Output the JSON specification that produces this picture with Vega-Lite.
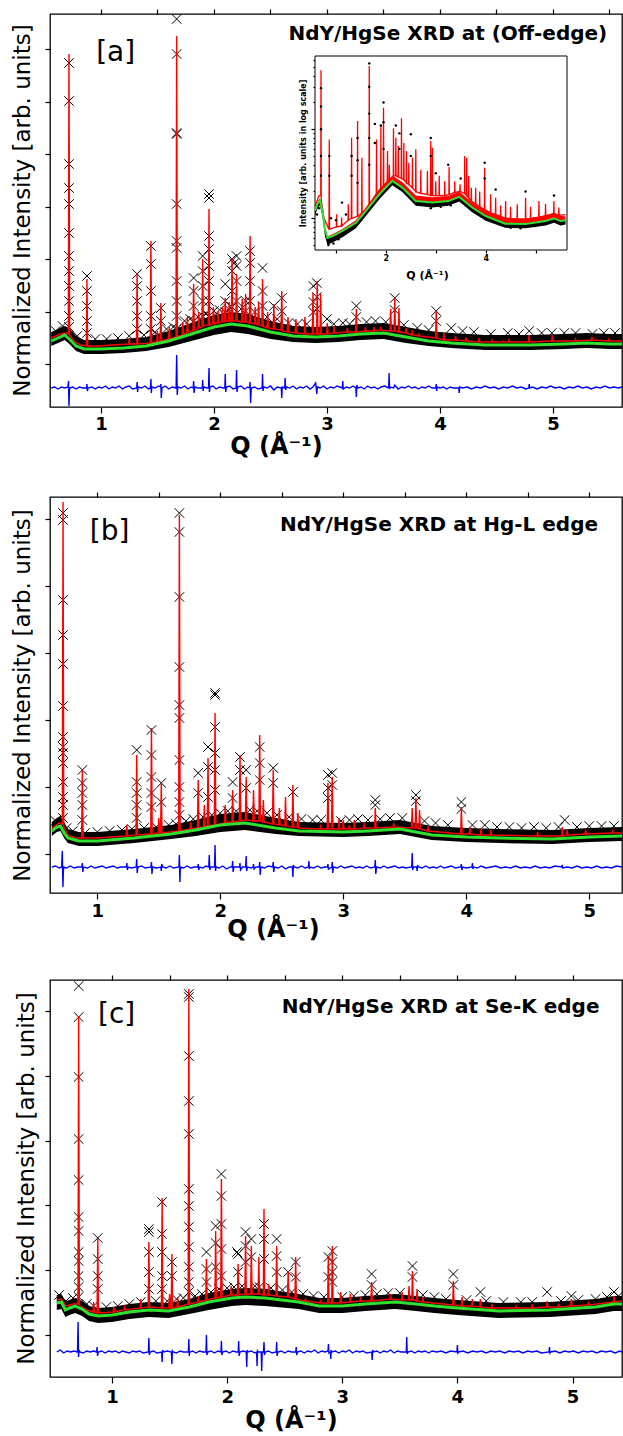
{
"$schema": "https://vega.github.io/schema/vega-lite/v6.json",
"background": "white",
"padding": {"left": 10, "top": 7, "right": 0, "bottom": 0},
"spacing": 31,
"datasets": {
"a_bg": [
{"q":0.56,"bg":66,"lo":61,"hi":75},{"q":0.62,"bg":69,"lo":64,"hi":78},{"q":0.68,"bg":72,"lo":67,"hi":81},{"q":0.72,"bg":68,"lo":63,"hi":79},{"q":0.78,"bg":61,"lo":56,"hi":71},{"q":0.85,"bg":58,"lo":53,"hi":67},{"q":1.0,"bg":58,"lo":53,"hi":67},{"q":1.2,"bg":59,"lo":54,"hi":68},{"q":1.4,"bg":61,"lo":56,"hi":70},{"q":1.6,"bg":66,"lo":60,"hi":76},{"q":1.8,"bg":73,"lo":66,"hi":84},{"q":2.0,"bg":80,"lo":72,"hi":92},{"q":2.15,"bg":83,"lo":75,"hi":95},{"q":2.3,"bg":81,"lo":73,"hi":93},{"q":2.5,"bg":75,"lo":68,"hi":86},{"q":2.7,"bg":71,"lo":65,"hi":81},{"q":2.9,"bg":70,"lo":64,"hi":80},{"q":3.1,"bg":71,"lo":65,"hi":81},{"q":3.3,"bg":73,"lo":67,"hi":83},{"q":3.5,"bg":74,"lo":68,"hi":84},{"q":3.7,"bg":70,"lo":64,"hi":80},{"q":3.9,"bg":66,"lo":61,"hi":76},{"q":4.1,"bg":64,"lo":59,"hi":74},{"q":4.4,"bg":62,"lo":57,"hi":72},{"q":4.8,"bg":62,"lo":57,"hi":72},{"q":5.1,"bg":63,"lo":58,"hi":73},{"q":5.3,"bg":64,"lo":59,"hi":74},{"q":5.5,"bg":63,"lo":58,"hi":73},{"q":5.611,"bg":63,"lo":58,"hi":73}
],
"a_calc": [
{"q":0.56,"y":69},{"q":0.64,"y":73},{"q":0.70,"y":74},{"q":0.711,"y":73},{"q":0.717,"y":353},{"q":0.723,"y":72},{"q":0.76,"y":66},{"q":0.82,"y":62},{"q":0.87,"y":61},{"q":0.876,"y":128},{"q":0.882,"y":61},{"q":0.98,"y":61},{"q":1.10,"y":62},{"q":1.245,"y":63},{"q":1.25,"y":69},{"q":1.255,"y":63},{"q":1.314,"y":63},{"q":1.32,"y":134},{"q":1.326,"y":63},{"q":1.436,"y":64},{"q":1.442,"y":166},{"q":1.448,"y":64},{"q":1.494,"y":65},{"q":1.50,"y":76},{"q":1.506,"y":65},{"q":1.524,"y":66},{"q":1.53,"y":104},{"q":1.536,"y":66},{"q":1.598,"y":68},{"q":1.605,"y":80},{"q":1.612,"y":68},{"q":1.664,"y":70},{"q":1.67,"y":371},{"q":1.676,"y":70},{"q":1.718,"y":72},{"q":1.725,"y":85},{"q":1.732,"y":73},{"q":1.758,"y":74},{"q":1.765,"y":90},{"q":1.772,"y":75},{"q":1.814,"y":76},{"q":1.82,"y":123},{"q":1.826,"y":77},{"q":1.858,"y":78},{"q":1.865,"y":95},{"q":1.872,"y":79},{"q":1.894,"y":80},{"q":1.90,"y":148},{"q":1.906,"y":81},{"q":1.95,"y":82},{"q":1.956,"y":198},{"q":1.962,"y":82},{"q":1.988,"y":83},{"q":1.995,"y":100},{"q":2.002,"y":83},{"q":2.03,"y":84},{"q":2.036,"y":96},{"q":2.042,"y":84},{"q":2.068,"y":85},{"q":2.075,"y":100},{"q":2.082,"y":85},{"q":2.094,"y":85},{"q":2.10,"y":109},{"q":2.106,"y":86},{"q":2.128,"y":86},{"q":2.135,"y":105},{"q":2.142,"y":86},{"q":2.154,"y":86},{"q":2.16,"y":149},{"q":2.166,"y":86},{"q":2.194,"y":86},{"q":2.20,"y":133},{"q":2.206,"y":86},{"q":2.243,"y":85},{"q":2.25,"y":108},{"q":2.257,"y":85},{"q":2.274,"y":85},{"q":2.28,"y":113},{"q":2.286,"y":85},{"q":2.314,"y":84},{"q":2.32,"y":171},{"q":2.326,"y":84},{"q":2.358,"y":83},{"q":2.365,"y":100},{"q":2.372,"y":83},{"q":2.388,"y":82},{"q":2.395,"y":105},{"q":2.402,"y":82},{"q":2.424,"y":81},{"q":2.43,"y":128},{"q":2.436,"y":81},{"q":2.468,"y":79},{"q":2.475,"y":95},{"q":2.482,"y":79},{"q":2.524,"y":78},{"q":2.53,"y":103},{"q":2.536,"y":78},{"q":2.594,"y":77},{"q":2.60,"y":116},{"q":2.606,"y":76},{"q":2.648,"y":75},{"q":2.655,"y":90},{"q":2.662,"y":75},{"q":2.718,"y":74},{"q":2.725,"y":88},{"q":2.732,"y":74},{"q":2.798,"y":73},{"q":2.805,"y":90},{"q":2.812,"y":73},{"q":2.87,"y":73},{"q":2.876,"y":114},{"q":2.882,"y":73},{"q":2.908,"y":73},{"q":2.914,"y":126},{"q":2.92,"y":73},{"q":2.938,"y":73},{"q":2.944,"y":113},{"q":2.95,"y":73},{"q":2.997,"y":73},{"q":3.003,"y":84},{"q":3.009,"y":73},{"q":3.056,"y":74},{"q":3.062,"y":81},{"q":3.068,"y":74},{"q":3.174,"y":75},{"q":3.18,"y":79},{"q":3.186,"y":75},{"q":3.254,"y":75},{"q":3.26,"y":98},{"q":3.266,"y":75},{"q":3.334,"y":76},{"q":3.34,"y":80},{"q":3.346,"y":76},{"q":3.41,"y":76},{"q":3.416,"y":80},{"q":3.422,"y":76},{"q":3.469,"y":77},{"q":3.475,"y":79},{"q":3.481,"y":77},{"q":3.558,"y":76},{"q":3.564,"y":98},{"q":3.57,"y":76},{"q":3.594,"y":76},{"q":3.60,"y":109},{"q":3.606,"y":76},{"q":3.631,"y":75},{"q":3.637,"y":99},{"q":3.643,"y":75},{"q":3.694,"y":74},{"q":3.70,"y":79},{"q":3.706,"y":74},{"q":3.749,"y":72},{"q":3.755,"y":77},{"q":3.761,"y":72},{"q":3.808,"y":71},{"q":3.814,"y":73},{"q":3.82,"y":71},{"q":3.961,"y":69},{"q":3.967,"y":96},{"q":3.973,"y":69},{"q":4.029,"y":67},{"q":4.035,"y":74},{"q":4.041,"y":67},{"q":4.133,"y":67},{"q":4.139,"y":71},{"q":4.145,"y":67},{"q":4.224,"y":66},{"q":4.23,"y":70},{"q":4.236,"y":66},{"q":4.339,"y":65},{"q":4.345,"y":69},{"q":4.351,"y":65},{"q":4.454,"y":65},{"q":4.46,"y":67},{"q":4.466,"y":65},{"q":4.604,"y":65},{"q":4.61,"y":67},{"q":4.616,"y":65},{"q":4.782,"y":65},{"q":4.788,"y":72},{"q":4.794,"y":65},{"q":4.988,"y":66},{"q":4.994,"y":72},{"q":5.0,"y":66},{"q":5.194,"y":66},{"q":5.2,"y":68},{"q":5.206,"y":66},{"q":5.339,"y":67},{"q":5.345,"y":70},{"q":5.351,"y":67},{"q":5.49,"y":66},{"q":5.496,"y":68},{"q":5.502,"y":66},{"q":5.611,"y":66}
],
"a_obs": [
{"q":0.717,"y":344},{"q":0.717,"y":306},{"q":0.717,"y":243},{"q":0.717,"y":219},{"q":0.717,"y":203},{"q":0.717,"y":174},{"q":0.717,"y":151},{"q":0.717,"y":136},{"q":0.717,"y":121},{"q":0.717,"y":106},{"q":0.717,"y":91},{"q":0.717,"y":80},
{"q":0.876,"y":131},{"q":0.876,"y":116},{"q":0.876,"y":101},{"q":0.876,"y":86},{"q":0.876,"y":74},
{"q":1.32,"y":133},{"q":1.32,"y":121},{"q":1.32,"y":106},{"q":1.32,"y":91},{"q":1.32,"y":78},
{"q":1.442,"y":161},{"q":1.442,"y":143},{"q":1.442,"y":116},{"q":1.442,"y":91},{"q":1.442,"y":78},
{"q":1.53,"y":99},{"q":1.53,"y":86},
{"q":1.67,"y":388},{"q":1.67,"y":353},{"q":1.67,"y":274},{"q":1.67,"y":273},{"q":1.67,"y":203},{"q":1.67,"y":166},{"q":1.67,"y":159},{"q":1.67,"y":126},{"q":1.67,"y":106},{"q":1.67,"y":91},{"q":1.67,"y":78},
{"q":1.82,"y":129},{"q":1.82,"y":116},{"q":1.82,"y":101},{"q":1.82,"y":86},
{"q":1.90,"y":151},{"q":1.90,"y":136},{"q":1.90,"y":121},{"q":1.90,"y":106},{"q":1.90,"y":91},
{"q":1.956,"y":213},{"q":1.956,"y":209},{"q":1.956,"y":171},{"q":1.956,"y":158},{"q":1.956,"y":141},{"q":1.956,"y":126},{"q":1.956,"y":106},{"q":1.956,"y":91},
{"q":2.10,"y":123},{"q":2.10,"y":106},{"q":2.10,"y":95},
{"q":2.16,"y":148},{"q":2.16,"y":136},{"q":2.16,"y":116},{"q":2.16,"y":100},{"q":2.18,"y":144},
{"q":2.20,"y":151},{"q":2.20,"y":141},{"q":2.20,"y":126},{"q":2.20,"y":106},
{"q":2.28,"y":106},{"q":2.28,"y":96},
{"q":2.32,"y":156},{"q":2.32,"y":144},{"q":2.32,"y":126},{"q":2.32,"y":106},
{"q":2.43,"y":139},{"q":2.43,"y":116},{"q":2.43,"y":101},
{"q":2.53,"y":101},{"q":2.60,"y":109},{"q":2.60,"y":96},
{"q":2.88,"y":121},{"q":2.88,"y":105},{"q":2.88,"y":95},{"q":2.91,"y":124},{"q":2.91,"y":110},{"q":2.91,"y":98},
{"q":3.0,"y":88},{"q":3.14,"y":84},{"q":3.26,"y":101},{"q":3.26,"y":90},{"q":3.43,"y":86},{"q":3.60,"y":109},{"q":3.60,"y":97},{"q":3.967,"y":96},{"q":3.967,"y":86},{"q":4.1,"y":79},{"q":4.79,"y":76},{"q":4.99,"y":74},{"q":5.35,"y":73},
{"q":0.6,"y":76},{"q":0.66,"y":81},{"q":0.79,"y":71},{"q":0.95,"y":68},{"q":1.05,"y":68},{"q":1.15,"y":69},{"q":1.25,"y":71},{"q":1.38,"y":72},{"q":1.48,"y":75},{"q":1.58,"y":78},{"q":1.64,"y":80},{"q":1.74,"y":86},{"q":1.79,"y":88},{"q":1.86,"y":90},{"q":1.93,"y":93},{"q":2.0,"y":96},{"q":2.05,"y":97},{"q":2.13,"y":98},{"q":2.24,"y":98},{"q":2.36,"y":95},{"q":2.47,"y":90},{"q":2.56,"y":88},{"q":2.66,"y":84},{"q":2.74,"y":83},{"q":2.82,"y":83},{"q":3.06,"y":83},{"q":3.2,"y":83},{"q":3.35,"y":85},{"q":3.52,"y":85},{"q":3.68,"y":82},{"q":3.8,"y":79},{"q":3.9,"y":77},{"q":4.2,"y":76},{"q":4.3,"y":75},{"q":4.45,"y":73},{"q":4.6,"y":74},{"q":4.7,"y":73},{"q":4.9,"y":74},{"q":5.1,"y":74},{"q":5.2,"y":74},{"q":5.45,"y":74},{"q":5.55,"y":74}
],
"a_diff": [
{"q":0.56,"y":19},{"q":0.59,"y":20},{"q":0.62,"y":18},{"q":0.65,"y":20},{"q":0.68,"y":19},{"q":0.708,"y":20},{"q":0.713,"y":26},{"q":0.717,"y":1},{"q":0.722,"y":19},{"q":0.75,"y":20},{"q":0.78,"y":18},{"q":0.81,"y":20},{"q":0.84,"y":19},{"q":0.872,"y":19},{"q":0.876,"y":23},{"q":0.88,"y":16},{"q":0.885,"y":19},{"q":0.92,"y":20},{"q":0.95,"y":18},{"q":0.98,"y":20},{"q":1.01,"y":19},{"q":1.04,"y":21},{"q":1.07,"y":18},{"q":1.10,"y":20},{"q":1.13,"y":19},{"q":1.16,"y":21},{"q":1.19,"y":18},{"q":1.22,"y":20},{"q":1.25,"y":21},{"q":1.28,"y":18},{"q":1.316,"y":19},{"q":1.32,"y":25},{"q":1.324,"y":15},{"q":1.33,"y":20},{"q":1.36,"y":19},{"q":1.39,"y":21},{"q":1.42,"y":18},{"q":1.438,"y":19},{"q":1.442,"y":28},{"q":1.446,"y":14},{"q":1.45,"y":20},{"q":1.48,"y":19},{"q":1.51,"y":21},{"q":1.526,"y":20},{"q":1.53,"y":23},{"q":1.534,"y":9},{"q":1.54,"y":19},{"q":1.57,"y":21},{"q":1.60,"y":18},{"q":1.63,"y":20},{"q":1.665,"y":19},{"q":1.67,"y":52},{"q":1.675,"y":12},{"q":1.68,"y":20},{"q":1.71,"y":19},{"q":1.74,"y":21},{"q":1.77,"y":18},{"q":1.80,"y":20},{"q":1.816,"y":19},{"q":1.82,"y":26},{"q":1.824,"y":14},{"q":1.83,"y":20},{"q":1.86,"y":19},{"q":1.896,"y":19},{"q":1.90,"y":27},{"q":1.904,"y":16},{"q":1.91,"y":20},{"q":1.94,"y":19},{"q":1.952,"y":19},{"q":1.956,"y":39},{"q":1.96,"y":15},{"q":1.965,"y":20},{"q":1.99,"y":21},{"q":2.02,"y":18},{"q":2.05,"y":20},{"q":2.08,"y":19},{"q":2.096,"y":19},{"q":2.10,"y":33},{"q":2.104,"y":15},{"q":2.11,"y":20},{"q":2.14,"y":21},{"q":2.17,"y":18},{"q":2.196,"y":19},{"q":2.20,"y":37},{"q":2.204,"y":15},{"q":2.21,"y":20},{"q":2.24,"y":21},{"q":2.27,"y":18},{"q":2.30,"y":20},{"q":2.316,"y":19},{"q":2.32,"y":25},{"q":2.324,"y":4},{"q":2.33,"y":19},{"q":2.36,"y":20},{"q":2.39,"y":18},{"q":2.426,"y":19},{"q":2.43,"y":33},{"q":2.434,"y":16},{"q":2.44,"y":20},{"q":2.47,"y":19},{"q":2.50,"y":21},{"q":2.53,"y":17},{"q":2.56,"y":20},{"q":2.596,"y":19},{"q":2.60,"y":9},{"q":2.604,"y":20},{"q":2.626,"y":19},{"q":2.63,"y":29},{"q":2.634,"y":17},{"q":2.64,"y":20},{"q":2.67,"y":19},{"q":2.70,"y":21},{"q":2.73,"y":18},{"q":2.76,"y":20},{"q":2.79,"y":19},{"q":2.82,"y":21},{"q":2.85,"y":18},{"q":2.876,"y":20},{"q":2.90,"y":24},{"q":2.905,"y":19},{"q":2.91,"y":13},{"q":2.915,"y":20},{"q":2.94,"y":19},{"q":2.97,"y":21},{"q":3.0,"y":18},{"q":3.03,"y":20},{"q":3.06,"y":19},{"q":3.09,"y":21},{"q":3.136,"y":19},{"q":3.14,"y":26},{"q":3.144,"y":18},{"q":3.17,"y":20},{"q":3.20,"y":19},{"q":3.23,"y":21},{"q":3.256,"y":19},{"q":3.26,"y":10},{"q":3.264,"y":22},{"q":3.27,"y":19},{"q":3.30,"y":20},{"q":3.33,"y":18},{"q":3.36,"y":21},{"q":3.39,"y":19},{"q":3.42,"y":20},{"q":3.45,"y":18},{"q":3.48,"y":20},{"q":3.51,"y":21},{"q":3.546,"y":19},{"q":3.55,"y":34},{"q":3.554,"y":18},{"q":3.56,"y":20},{"q":3.59,"y":19},{"q":3.60,"y":22},{"q":3.63,"y":18},{"q":3.66,"y":20},{"q":3.69,"y":19},{"q":3.72,"y":21},{"q":3.75,"y":19},{"q":3.78,"y":20},{"q":3.81,"y":18},{"q":3.84,"y":20},{"q":3.87,"y":19},{"q":3.90,"y":21},{"q":3.93,"y":19},{"q":3.963,"y":19},{"q":3.967,"y":23},{"q":3.971,"y":16},{"q":3.975,"y":20},{"q":4.0,"y":19},{"q":4.03,"y":20},{"q":4.06,"y":18},{"q":4.09,"y":20},{"q":4.12,"y":19},{"q":4.166,"y":19},{"q":4.17,"y":14},{"q":4.174,"y":20},{"q":4.20,"y":19},{"q":4.24,"y":20},{"q":4.28,"y":18},{"q":4.32,"y":20},{"q":4.36,"y":19},{"q":4.40,"y":21},{"q":4.44,"y":19},{"q":4.48,"y":20},{"q":4.52,"y":18},{"q":4.56,"y":20},{"q":4.60,"y":19},{"q":4.64,"y":21},{"q":4.68,"y":19},{"q":4.72,"y":20},{"q":4.76,"y":18},{"q":4.786,"y":19},{"q":4.79,"y":23},{"q":4.794,"y":19},{"q":4.82,"y":20},{"q":4.86,"y":18},{"q":4.90,"y":20},{"q":4.94,"y":19},{"q":4.98,"y":21},{"q":5.02,"y":19},{"q":5.06,"y":20},{"q":5.10,"y":18},{"q":5.14,"y":20},{"q":5.18,"y":19},{"q":5.22,"y":21},{"q":5.26,"y":19},{"q":5.30,"y":20},{"q":5.34,"y":18},{"q":5.38,"y":20},{"q":5.42,"y":19},{"q":5.46,"y":21},{"q":5.50,"y":19},{"q":5.54,"y":20},{"q":5.58,"y":19},{"q":5.611,"y":20}
],
"i_bg": [
{"q":0.58,"bg":1.21,"lo":1.08,"hi":1.28},{"q":0.63,"bg":1.45,"lo":1.28,"hi":1.53},{"q":0.68,"bg":1.59,"lo":1.4,"hi":1.68},{"q":0.73,"bg":1.2,"lo":1.04,"hi":1.26},{"q":0.78,"bg":0.75,"lo":0.63,"hi":0.79},{"q":0.83,"bg":0.6,"lo":0.5,"hi":0.63},{"q":0.95,"bg":0.64,"lo":0.54,"hi":0.67},{"q":1.13,"bg":0.72,"lo":0.61,"hi":0.76},{"q":1.4,"bg":0.89,"lo":0.77,"hi":0.95},{"q":1.6,"bg":1.21,"lo":1.06,"hi":1.32},{"q":1.87,"bg":1.86,"lo":1.64,"hi":2.15},{"q":2.13,"bg":2.63,"lo":2.35,"hi":3.0},{"q":2.33,"bg":2.21,"lo":1.97,"hi":2.55},{"q":2.6,"bg":1.56,"lo":1.38,"hi":1.8},{"q":2.93,"bg":1.5,"lo":1.32,"hi":1.72},{"q":3.25,"bg":1.56,"lo":1.38,"hi":1.78},{"q":3.47,"bg":1.74,"lo":1.54,"hi":2.0},{"q":3.73,"bg":1.32,"lo":1.17,"hi":1.5},{"q":4.0,"bg":1.06,"lo":0.94,"hi":1.22},{"q":4.39,"bg":0.87,"lo":0.78,"hi":1.0},{"q":4.8,"bg":0.86,"lo":0.77,"hi":0.99},{"q":5.2,"bg":0.93,"lo":0.83,"hi":1.07},{"q":5.37,"bg":1.0,"lo":0.89,"hi":1.15},{"q":5.5,"bg":0.93,"lo":0.83,"hi":1.07},{"q":5.6,"bg":0.95,"lo":0.85,"hi":1.05}
],
"i_calc": [
{"q":0.58,"v":1.35},{"q":0.66,"v":1.8},{"q":0.695,"v":1.8},{"q":0.70,"v":46},{"q":0.705,"v":1.6},{"q":0.76,"v":1.0},{"q":0.86,"v":0.75},{"q":0.866,"v":7.7},{"q":0.872,"v":0.75},{"q":1.008,"v":0.8},{"q":1.013,"v":1.11},{"q":1.018,"v":0.8},{"q":1.108,"v":0.82},{"q":1.113,"v":1.02},{"q":1.118,"v":0.82},{"q":1.242,"v":0.95},{"q":1.247,"v":1.44},{"q":1.252,"v":0.95},{"q":1.308,"v":1.0},{"q":1.313,"v":8.05},{"q":1.318,"v":1.0},{"q":1.428,"v":1.05},{"q":1.433,"v":12.4},{"q":1.438,"v":1.05},{"q":1.515,"v":1.15},{"q":1.52,"v":4.8},{"q":1.525,"v":1.15},{"q":1.662,"v":1.35},{"q":1.667,"v":51.4},{"q":1.672,"v":1.35},{"q":1.808,"v":1.9},{"q":1.813,"v":7.7},{"q":1.818,"v":1.9},{"q":1.895,"v":2.1},{"q":1.9,"v":10.9},{"q":1.905,"v":2.1},{"q":1.948,"v":2.3},{"q":1.953,"v":17.5},{"q":1.958,"v":2.3},{"q":2.028,"v":2.6},{"q":2.033,"v":5.7},{"q":2.038,"v":2.6},{"q":2.065,"v":2.7},{"q":2.07,"v":4.0},{"q":2.075,"v":2.7},{"q":2.148,"v":3.0},{"q":2.153,"v":10.3},{"q":2.158,"v":3.0},{"q":2.195,"v":3.0},{"q":2.2,"v":8.05},{"q":2.205,"v":3.0},{"q":2.245,"v":2.9},{"q":2.25,"v":6.5},{"q":2.255,"v":2.9},{"q":2.308,"v":2.8},{"q":2.313,"v":13.3},{"q":2.318,"v":2.8},{"q":2.355,"v":2.7},{"q":2.36,"v":7.0},{"q":2.365,"v":2.7},{"q":2.408,"v":2.5},{"q":2.413,"v":5.7},{"q":2.418,"v":2.5},{"q":2.455,"v":2.4},{"q":2.46,"v":4.2},{"q":2.465,"v":2.4},{"q":2.528,"v":2.2},{"q":2.533,"v":4.8},{"q":2.538,"v":2.2},{"q":2.595,"v":2.0},{"q":2.6,"v":5.96},{"q":2.605,"v":2.0},{"q":2.695,"v":1.9},{"q":2.7,"v":3.5},{"q":2.705,"v":1.9},{"q":2.828,"v":1.85},{"q":2.833,"v":3.4},{"q":2.838,"v":1.85},{"q":2.895,"v":1.8},{"q":2.9,"v":7.4},{"q":2.905,"v":1.8},{"q":2.928,"v":1.8},{"q":2.933,"v":6.2},{"q":2.938,"v":1.8},{"q":2.995,"v":1.8},{"q":3.0,"v":2.6},{"q":3.005,"v":1.8},{"q":3.065,"v":1.8},{"q":3.07,"v":3.0},{"q":3.075,"v":1.8},{"q":3.175,"v":1.8},{"q":3.18,"v":2.6},{"q":3.185,"v":1.8},{"q":3.262,"v":1.85},{"q":3.267,"v":3.77},{"q":3.272,"v":1.85},{"q":3.375,"v":1.95},{"q":3.38,"v":2.6},{"q":3.385,"v":1.95},{"q":3.482,"v":2.0},{"q":3.487,"v":2.41},{"q":3.492,"v":2.0},{"q":3.575,"v":1.9},{"q":3.58,"v":5.0},{"q":3.585,"v":1.9},{"q":3.615,"v":1.8},{"q":3.62,"v":4.8},{"q":3.625,"v":1.8},{"q":3.655,"v":1.7},{"q":3.66,"v":3.0},{"q":3.665,"v":1.7},{"q":3.708,"v":1.55},{"q":3.713,"v":2.2},{"q":3.718,"v":1.55},{"q":3.795,"v":1.45},{"q":3.8,"v":2.2},{"q":3.805,"v":1.45},{"q":3.875,"v":1.35},{"q":3.88,"v":2.0},{"q":3.885,"v":1.35},{"q":3.975,"v":1.25},{"q":3.98,"v":3.7},{"q":3.985,"v":1.25},{"q":4.095,"v":1.15},{"q":4.1,"v":1.86},{"q":4.105,"v":1.15},{"q":4.195,"v":1.1},{"q":4.2,"v":1.7},{"q":4.205,"v":1.1},{"q":4.295,"v":1.05},{"q":4.3,"v":1.4},{"q":4.305,"v":1.05},{"q":4.395,"v":1.0},{"q":4.4,"v":1.56},{"q":4.405,"v":1.0},{"q":4.495,"v":0.99},{"q":4.5,"v":1.35},{"q":4.505,"v":0.99},{"q":4.628,"v":0.98},{"q":4.633,"v":1.44},{"q":4.638,"v":0.98},{"q":4.795,"v":0.98},{"q":4.8,"v":1.7},{"q":4.805,"v":0.98},{"q":4.895,"v":1.0},{"q":4.9,"v":1.35},{"q":4.905,"v":1.0},{"q":5.062,"v":1.03},{"q":5.067,"v":1.56},{"q":5.072,"v":1.03},{"q":5.195,"v":1.07},{"q":5.2,"v":1.45},{"q":5.205,"v":1.07},{"q":5.362,"v":1.13},{"q":5.367,"v":1.56},{"q":5.372,"v":1.13},{"q":5.462,"v":1.08},{"q":5.467,"v":1.32},{"q":5.472,"v":1.08},{"q":5.6,"v":1.1}
],
"i_obs": [
{"q":0.70,"v":29},{"q":0.70,"v":18},{"q":0.70,"v":10},{"q":0.70,"v":5},{"q":0.70,"v":3},{"q":0.866,"v":5},{"q":0.866,"v":3},{"q":1.313,"v":5},{"q":1.313,"v":3},{"q":1.433,"v":8},{"q":1.433,"v":4.5},{"q":1.433,"v":2.5},{"q":1.667,"v":55},{"q":1.667,"v":30},{"q":1.667,"v":15},{"q":1.667,"v":8},{"q":1.667,"v":4},{"q":1.78,"v":11.5},{"q":1.78,"v":7},{"q":1.9,"v":11},{"q":1.953,"v":20},{"q":1.953,"v":12},{"q":1.953,"v":6},{"q":2.2,"v":11},{"q":2.27,"v":9},{"q":2.27,"v":6},{"q":2.5,"v":8.8},{"q":2.5,"v":5},{"q":2.9,"v":8},{"q":2.9,"v":5},{"q":3.0,"v":3.2},{"q":3.25,"v":4},{"q":3.5,"v":2.8},{"q":3.98,"v":4.2},{"q":3.98,"v":2.8},{"q":4.2,"v":2.1},{"q":4.8,"v":2.0},{"q":5.37,"v":1.8},{"q":0.85,"v":0.5},{"q":0.9,"v":0.56},{"q":0.95,"v":0.52},{"q":1.0,"v":0.62},{"q":1.05,"v":0.58},{"q":1.1,"v":0.66},{"q":1.2,"v":0.7},{"q":1.3,"v":0.76},{"q":1.5,"v":0.95},{"q":0.62,"v":1.1},{"q":0.66,"v":1.3},{"q":2.9,"v":1.3},{"q":3.1,"v":1.35},{"q":3.3,"v":1.4},{"q":4.5,"v":0.78},{"q":4.7,"v":0.77},{"q":5.0,"v":0.82},{"q":5.5,"v":0.86},{"q":1.12,"v":1.5},{"q":1.2,"v":1.1},{"q":0.9,"v":1.0},{"q":1.0,"v":0.95}
],
"b_bg": [
{"q":0.63,"bg":62,"lo":57,"hi":71},{"q":0.67,"bg":66,"lo":61,"hi":75},{"q":0.70,"bg":67,"lo":62,"hi":77},{"q":0.73,"bg":60,"lo":55,"hi":71},{"q":0.76,"bg":55,"lo":50,"hi":64},{"q":0.85,"bg":52,"lo":47,"hi":61},{"q":1.0,"bg":52,"lo":47,"hi":61},{"q":1.3,"bg":55,"lo":50,"hi":64},{"q":1.6,"bg":59,"lo":54,"hi":68},{"q":1.8,"bg":63,"lo":57,"hi":73},{"q":2.0,"bg":68,"lo":61,"hi":79},{"q":2.2,"bg":70,"lo":63,"hi":81},{"q":2.45,"bg":65,"lo":59,"hi":75},{"q":2.64,"bg":62,"lo":57,"hi":71},{"q":3.0,"bg":61,"lo":56,"hi":70},{"q":3.2,"bg":62,"lo":57,"hi":71},{"q":3.46,"bg":64,"lo":59,"hi":73},{"q":3.72,"bg":58,"lo":53,"hi":67},{"q":4.0,"bg":56,"lo":51,"hi":65},{"q":4.27,"bg":55,"lo":50,"hi":64},{"q":4.7,"bg":54,"lo":49,"hi":63},{"q":5.0,"bg":56,"lo":51,"hi":65},{"q":5.266,"bg":57,"lo":52,"hi":66}
],
"b_calc": [
{"q":0.63,"y":65},{"q":0.69,"y":70},{"q":0.715,"y":69},{"q":0.721,"y":391},{"q":0.727,"y":66},{"q":0.76,"y":58},{"q":0.82,"y":55},{"q":0.872,"y":55},{"q":0.878,"y":123},{"q":0.884,"y":55},{"q":1.0,"y":55},{"q":1.11,"y":56},{"q":1.234,"y":57},{"q":1.24,"y":68},{"q":1.246,"y":57},{"q":1.314,"y":58},{"q":1.32,"y":138},{"q":1.326,"y":58},{"q":1.434,"y":59},{"q":1.44,"y":165},{"q":1.446,"y":59},{"q":1.494,"y":60},{"q":1.50,"y":75},{"q":1.506,"y":60},{"q":1.514,"y":60},{"q":1.52,"y":110},{"q":1.526,"y":60},{"q":1.661,"y":62},{"q":1.667,"y":378},{"q":1.673,"y":62},{"q":1.754,"y":64},{"q":1.76,"y":71},{"q":1.766,"y":64},{"q":1.814,"y":65},{"q":1.82,"y":113},{"q":1.826,"y":65},{"q":1.864,"y":66},{"q":1.87,"y":88},{"q":1.876,"y":66},{"q":1.894,"y":67},{"q":1.90,"y":135},{"q":1.906,"y":67},{"q":1.951,"y":68},{"q":1.957,"y":180},{"q":1.963,"y":68},{"q":2.034,"y":70},{"q":2.04,"y":88},{"q":2.046,"y":70},{"q":2.094,"y":71},{"q":2.10,"y":103},{"q":2.106,"y":71},{"q":2.154,"y":72},{"q":2.16,"y":138},{"q":2.166,"y":72},{"q":2.204,"y":73},{"q":2.21,"y":116},{"q":2.216,"y":73},{"q":2.264,"y":72},{"q":2.27,"y":103},{"q":2.276,"y":72},{"q":2.314,"y":72},{"q":2.32,"y":158},{"q":2.326,"y":72},{"q":2.344,"y":71},{"q":2.35,"y":93},{"q":2.356,"y":71},{"q":2.424,"y":69},{"q":2.43,"y":123},{"q":2.436,"y":69},{"q":2.474,"y":68},{"q":2.48,"y":85},{"q":2.486,"y":68},{"q":2.524,"y":67},{"q":2.53,"y":96},{"q":2.536,"y":67},{"q":2.584,"y":66},{"q":2.59,"y":108},{"q":2.596,"y":66},{"q":2.624,"y":66},{"q":2.63,"y":80},{"q":2.636,"y":65},{"q":2.81,"y":64},{"q":2.816,"y":68},{"q":2.822,"y":64},{"q":2.869,"y":64},{"q":2.875,"y":110},{"q":2.881,"y":64},{"q":2.904,"y":64},{"q":2.91,"y":116},{"q":2.916,"y":64},{"q":2.959,"y":64},{"q":2.965,"y":75},{"q":2.971,"y":64},{"q":2.994,"y":64},{"q":3.0,"y":73},{"q":3.006,"y":64},{"q":3.044,"y":64},{"q":3.05,"y":68},{"q":3.056,"y":64},{"q":3.084,"y":64},{"q":3.09,"y":73},{"q":3.096,"y":64},{"q":3.164,"y":65},{"q":3.17,"y":70},{"q":3.176,"y":65},{"q":3.254,"y":65},{"q":3.26,"y":85},{"q":3.266,"y":65},{"q":3.404,"y":66},{"q":3.41,"y":70},{"q":3.416,"y":66},{"q":3.554,"y":65},{"q":3.56,"y":85},{"q":3.566,"y":65},{"q":3.584,"y":65},{"q":3.59,"y":95},{"q":3.596,"y":65},{"q":3.614,"y":64},{"q":3.62,"y":83},{"q":3.626,"y":64},{"q":3.684,"y":62},{"q":3.69,"y":67},{"q":3.696,"y":62},{"q":3.954,"y":59},{"q":3.96,"y":86},{"q":3.966,"y":59},{"q":4.024,"y":59},{"q":4.03,"y":66},{"q":4.036,"y":59},{"q":4.114,"y":58},{"q":4.12,"y":65},{"q":4.126,"y":58},{"q":4.194,"y":58},{"q":4.2,"y":63},{"q":4.206,"y":58},{"q":4.574,"y":57},{"q":4.58,"y":61},{"q":4.586,"y":57},{"q":4.774,"y":57},{"q":4.78,"y":66},{"q":4.786,"y":57},{"q":4.814,"y":58},{"q":4.82,"y":63},{"q":4.826,"y":58},{"q":4.964,"y":59},{"q":4.97,"y":63},{"q":4.976,"y":59},{"q":5.184,"y":60},{"q":5.19,"y":63},{"q":5.196,"y":60},{"q":5.266,"y":60}
],
"b_obs": [
{"q":0.721,"y":380},{"q":0.721,"y":373},{"q":0.721,"y":293},{"q":0.721,"y":258},{"q":0.721,"y":229},{"q":0.721,"y":187},{"q":0.721,"y":156},{"q":0.721,"y":146},{"q":0.721,"y":140},{"q":0.721,"y":130},{"q":0.721,"y":111},{"q":0.721,"y":96},{"q":0.721,"y":88},{"q":0.721,"y":75},
{"q":0.878,"y":123},{"q":0.878,"y":110},{"q":0.878,"y":100},{"q":0.878,"y":88},{"q":0.878,"y":73},
{"q":1.32,"y":143},{"q":1.32,"y":111},{"q":1.32,"y":100},{"q":1.32,"y":88},{"q":1.32,"y":75},
{"q":1.44,"y":163},{"q":1.44,"y":138},{"q":1.44,"y":116},{"q":1.44,"y":100},{"q":1.44,"y":86},
{"q":1.52,"y":110},{"q":1.52,"y":91},
{"q":1.667,"y":380},{"q":1.667,"y":361},{"q":1.667,"y":296},{"q":1.667,"y":226},{"q":1.667,"y":188},{"q":1.667,"y":175},{"q":1.667,"y":133},{"q":1.667,"y":106},{"q":1.667,"y":91},{"q":1.667,"y":78},
{"q":1.82,"y":120},{"q":1.82,"y":100},{"q":1.90,"y":146},{"q":1.90,"y":126},{"q":1.90,"y":96},
{"q":1.957,"y":200},{"q":1.957,"y":198},{"q":1.957,"y":166},{"q":1.957,"y":140},{"q":1.957,"y":123},{"q":1.957,"y":103},
{"q":2.10,"y":111},{"q":2.10,"y":95},{"q":2.16,"y":136},{"q":2.16,"y":123},{"q":2.21,"y":123},{"q":2.21,"y":105},
{"q":2.32,"y":146},{"q":2.32,"y":130},{"q":2.32,"y":113},{"q":2.43,"y":125},{"q":2.43,"y":110},{"q":2.59,"y":101},
{"q":2.875,"y":118},{"q":2.875,"y":105},{"q":2.875,"y":95},{"q":2.91,"y":120},{"q":2.91,"y":108},
{"q":3.26,"y":93},{"q":3.26,"y":88},{"q":3.59,"y":98},{"q":3.59,"y":92},{"q":3.96,"y":91},{"q":3.96,"y":84},{"q":4.8,"y":73},
{"q":0.66,"y":72},{"q":0.75,"y":65},{"q":0.8,"y":62},{"q":0.9,"y":60},{"q":1.0,"y":61},{"q":1.1,"y":62},{"q":1.2,"y":63},{"q":1.28,"y":64},{"q":1.38,"y":65},{"q":1.48,"y":66},{"q":1.58,"y":68},{"q":1.64,"y":69},{"q":1.72,"y":72},{"q":1.78,"y":74},{"q":1.86,"y":76},{"q":1.93,"y":78},{"q":2.0,"y":80},{"q":2.06,"y":82},{"q":2.13,"y":82},{"q":2.24,"y":83},{"q":2.3,"y":82},{"q":2.38,"y":80},{"q":2.46,"y":78},{"q":2.56,"y":76},{"q":2.66,"y":74},{"q":2.75,"y":73},{"q":2.82,"y":73},{"q":2.98,"y":72},{"q":3.05,"y":73},{"q":3.12,"y":74},{"q":3.2,"y":73},{"q":3.3,"y":74},{"q":3.38,"y":75},{"q":3.48,"y":75},{"q":3.66,"y":72},{"q":3.75,"y":70},{"q":3.85,"y":68},{"q":4.05,"y":68},{"q":4.15,"y":68},{"q":4.25,"y":66},{"q":4.35,"y":66},{"q":4.45,"y":65},{"q":4.55,"y":66},{"q":4.65,"y":65},{"q":4.75,"y":66},{"q":4.9,"y":66},{"q":5.0,"y":67},{"q":5.1,"y":67},{"q":5.2,"y":67}
],
"b_diff": [
{"q":0.63,"y":26},{"q":0.66,"y":27},{"q":0.69,"y":25},{"q":0.71,"y":26},{"q":0.715,"y":42},{"q":0.72,"y":6},{"q":0.725,"y":26},{"q":0.75,"y":25},{"q":0.78,"y":27},{"q":0.81,"y":25},{"q":0.84,"y":26},{"q":0.874,"y":26},{"q":0.878,"y":30},{"q":0.882,"y":21},{"q":0.886,"y":26},{"q":0.92,"y":25},{"q":0.95,"y":27},{"q":0.98,"y":25},{"q":1.01,"y":26},{"q":1.04,"y":27},{"q":1.07,"y":25},{"q":1.10,"y":26},{"q":1.13,"y":27},{"q":1.16,"y":25},{"q":1.19,"y":26},{"q":1.236,"y":26},{"q":1.24,"y":30},{"q":1.244,"y":23},{"q":1.25,"y":26},{"q":1.28,"y":25},{"q":1.316,"y":26},{"q":1.32,"y":34},{"q":1.324,"y":20},{"q":1.33,"y":26},{"q":1.36,"y":27},{"q":1.39,"y":25},{"q":1.436,"y":26},{"q":1.44,"y":31},{"q":1.444,"y":19},{"q":1.45,"y":26},{"q":1.48,"y":25},{"q":1.516,"y":26},{"q":1.52,"y":22},{"q":1.524,"y":29},{"q":1.53,"y":26},{"q":1.56,"y":25},{"q":1.59,"y":27},{"q":1.62,"y":25},{"q":1.663,"y":26},{"q":1.667,"y":38},{"q":1.671,"y":11},{"q":1.675,"y":26},{"q":1.70,"y":25},{"q":1.73,"y":27},{"q":1.76,"y":25},{"q":1.79,"y":26},{"q":1.816,"y":26},{"q":1.82,"y":29},{"q":1.824,"y":23},{"q":1.83,"y":26},{"q":1.86,"y":25},{"q":1.88,"y":27},{"q":1.906,"y":26},{"q":1.91,"y":38},{"q":1.914,"y":23},{"q":1.92,"y":26},{"q":1.953,"y":26},{"q":1.957,"y":48},{"q":1.961,"y":22},{"q":1.965,"y":26},{"q":1.99,"y":25},{"q":2.02,"y":27},{"q":2.05,"y":24},{"q":2.08,"y":26},{"q":2.096,"y":26},{"q":2.10,"y":32},{"q":2.104,"y":21},{"q":2.11,"y":26},{"q":2.156,"y":26},{"q":2.16,"y":30},{"q":2.164,"y":23},{"q":2.18,"y":26},{"q":2.206,"y":26},{"q":2.21,"y":37},{"q":2.214,"y":22},{"q":2.22,"y":26},{"q":2.25,"y":25},{"q":2.266,"y":26},{"q":2.27,"y":29},{"q":2.274,"y":24},{"q":2.29,"y":26},{"q":2.316,"y":26},{"q":2.32,"y":31},{"q":2.324,"y":18},{"q":2.33,"y":26},{"q":2.36,"y":25},{"q":2.39,"y":27},{"q":2.426,"y":26},{"q":2.43,"y":31},{"q":2.434,"y":21},{"q":2.44,"y":26},{"q":2.47,"y":25},{"q":2.50,"y":27},{"q":2.53,"y":24},{"q":2.56,"y":26},{"q":2.586,"y":26},{"q":2.59,"y":16},{"q":2.594,"y":28},{"q":2.60,"y":26},{"q":2.63,"y":25},{"q":2.66,"y":27},{"q":2.69,"y":25},{"q":2.716,"y":26},{"q":2.72,"y":32},{"q":2.724,"y":24},{"q":2.73,"y":26},{"q":2.76,"y":25},{"q":2.79,"y":27},{"q":2.82,"y":25},{"q":2.85,"y":26},{"q":2.871,"y":26},{"q":2.875,"y":29},{"q":2.879,"y":24},{"q":2.906,"y":26},{"q":2.91,"y":31},{"q":2.914,"y":20},{"q":2.92,"y":26},{"q":2.95,"y":25},{"q":2.98,"y":27},{"q":3.01,"y":25},{"q":3.04,"y":26},{"q":3.07,"y":27},{"q":3.10,"y":25},{"q":3.13,"y":26},{"q":3.16,"y":25},{"q":3.19,"y":27},{"q":3.22,"y":25},{"q":3.256,"y":26},{"q":3.26,"y":33},{"q":3.264,"y":19},{"q":3.27,"y":26},{"q":3.30,"y":25},{"q":3.33,"y":27},{"q":3.36,"y":25},{"q":3.39,"y":26},{"q":3.42,"y":27},{"q":3.45,"y":25},{"q":3.48,"y":26},{"q":3.51,"y":25},{"q":3.556,"y":26},{"q":3.56,"y":40},{"q":3.564,"y":23},{"q":3.57,"y":26},{"q":3.596,"y":26},{"q":3.60,"y":22},{"q":3.604,"y":28},{"q":3.61,"y":26},{"q":3.64,"y":25},{"q":3.67,"y":27},{"q":3.70,"y":25},{"q":3.73,"y":26},{"q":3.76,"y":25},{"q":3.79,"y":27},{"q":3.82,"y":25},{"q":3.85,"y":26},{"q":3.88,"y":27},{"q":3.91,"y":25},{"q":3.956,"y":26},{"q":3.96,"y":29},{"q":3.964,"y":23},{"q":3.97,"y":26},{"q":4.00,"y":25},{"q":4.046,"y":26},{"q":4.05,"y":30},{"q":4.054,"y":24},{"q":4.06,"y":26},{"q":4.09,"y":25},{"q":4.12,"y":27},{"q":4.16,"y":25},{"q":4.20,"y":26},{"q":4.24,"y":27},{"q":4.28,"y":25},{"q":4.32,"y":26},{"q":4.36,"y":25},{"q":4.40,"y":27},{"q":4.44,"y":25},{"q":4.48,"y":26},{"q":4.52,"y":25},{"q":4.56,"y":27},{"q":4.60,"y":25},{"q":4.64,"y":26},{"q":4.68,"y":25},{"q":4.72,"y":27},{"q":4.776,"y":26},{"q":4.78,"y":28},{"q":4.784,"y":25},{"q":4.82,"y":26},{"q":4.86,"y":25},{"q":4.90,"y":27},{"q":4.94,"y":25},{"q":4.98,"y":26},{"q":5.02,"y":25},{"q":5.06,"y":27},{"q":5.10,"y":25},{"q":5.14,"y":26},{"q":5.18,"y":25},{"q":5.22,"y":27},{"q":5.266,"y":26}
],
"c_bg": [
{"q":0.52,"bg":74,"lo":67,"hi":82},{"q":0.56,"bg":75,"lo":68,"hi":83},{"q":0.595,"bg":67,"lo":60,"hi":76},{"q":0.63,"bg":69,"lo":62,"hi":77},{"q":0.68,"bg":71,"lo":64,"hi":79},{"q":0.74,"bg":68,"lo":61,"hi":76},{"q":0.80,"bg":63,"lo":56,"hi":71},{"q":0.88,"bg":61,"lo":54,"hi":69},{"q":1.0,"bg":62,"lo":55,"hi":70},{"q":1.15,"bg":65,"lo":58,"hi":73},{"q":1.32,"bg":67,"lo":60,"hi":75},{"q":1.49,"bg":66,"lo":59,"hi":74},{"q":1.67,"bg":70,"lo":63,"hi":78},{"q":1.84,"bg":75,"lo":67,"hi":84},{"q":2.04,"bg":79,"lo":71,"hi":88},{"q":2.16,"bg":80,"lo":72,"hi":89},{"q":2.33,"bg":79,"lo":71,"hi":88},{"q":2.62,"bg":75,"lo":68,"hi":83},{"q":2.80,"bg":71,"lo":64,"hi":79},{"q":3.0,"bg":71,"lo":64,"hi":79},{"q":3.2,"bg":73,"lo":66,"hi":81},{"q":3.46,"bg":75,"lo":68,"hi":83},{"q":3.64,"bg":73,"lo":66,"hi":81},{"q":3.8,"bg":71,"lo":64,"hi":79},{"q":4.0,"bg":69,"lo":62,"hi":77},{"q":4.36,"bg":66,"lo":59,"hi":74},{"q":4.8,"bg":67,"lo":60,"hi":75},{"q":5.2,"bg":70,"lo":63,"hi":78},{"q":5.36,"bg":73,"lo":66,"hi":81},{"q":5.43,"bg":73,"lo":66,"hi":81}
],
"c_calc": [
{"q":0.52,"y":77},{"q":0.56,"y":78},{"q":0.6,"y":71},{"q":0.66,"y":73},{"q":0.704,"y":73},{"q":0.71,"y":361},{"q":0.716,"y":72},{"q":0.78,"y":67},{"q":0.834,"y":65},{"q":0.84,"y":75},{"q":0.846,"y":65},{"q":0.87,"y":64},{"q":0.876,"y":138},{"q":0.882,"y":64},{"q":1.009,"y":65},{"q":1.015,"y":70},{"q":1.021,"y":65},{"q":1.104,"y":67},{"q":1.11,"y":72},{"q":1.116,"y":67},{"q":1.244,"y":69},{"q":1.25,"y":78},{"q":1.256,"y":69},{"q":1.314,"y":70},{"q":1.32,"y":135},{"q":1.326,"y":70},{"q":1.429,"y":69},{"q":1.435,"y":179},{"q":1.441,"y":69},{"q":1.494,"y":69},{"q":1.50,"y":83},{"q":1.506,"y":69},{"q":1.514,"y":69},{"q":1.52,"y":123},{"q":1.526,"y":69},{"q":1.564,"y":70},{"q":1.57,"y":80},{"q":1.576,"y":70},{"q":1.661,"y":73},{"q":1.667,"y":388},{"q":1.673,"y":73},{"q":1.744,"y":75},{"q":1.75,"y":81},{"q":1.756,"y":75},{"q":1.814,"y":77},{"q":1.82,"y":118},{"q":1.826,"y":77},{"q":1.894,"y":79},{"q":1.90,"y":146},{"q":1.906,"y":79},{"q":1.944,"y":80},{"q":1.95,"y":198},{"q":1.956,"y":80},{"q":2.029,"y":82},{"q":2.035,"y":91},{"q":2.041,"y":82},{"q":2.089,"y":82},{"q":2.095,"y":113},{"q":2.101,"y":82},{"q":2.154,"y":83},{"q":2.16,"y":141},{"q":2.166,"y":83},{"q":2.204,"y":83},{"q":2.21,"y":131},{"q":2.216,"y":83},{"q":2.269,"y":83},{"q":2.275,"y":120},{"q":2.281,"y":83},{"q":2.314,"y":82},{"q":2.32,"y":168},{"q":2.326,"y":82},{"q":2.354,"y":82},{"q":2.36,"y":93},{"q":2.366,"y":82},{"q":2.424,"y":81},{"q":2.43,"y":131},{"q":2.436,"y":81},{"q":2.524,"y":80},{"q":2.53,"y":106},{"q":2.536,"y":80},{"q":2.589,"y":78},{"q":2.595,"y":120},{"q":2.601,"y":78},{"q":2.674,"y":76},{"q":2.68,"y":78},{"q":2.686,"y":76},{"q":2.804,"y":74},{"q":2.81,"y":76},{"q":2.816,"y":74},{"q":2.873,"y":74},{"q":2.879,"y":121},{"q":2.885,"y":74},{"q":2.908,"y":74},{"q":2.914,"y":131},{"q":2.92,"y":74},{"q":2.98,"y":74},{"q":2.986,"y":85},{"q":2.992,"y":74},{"q":3.064,"y":75},{"q":3.07,"y":83},{"q":3.076,"y":75},{"q":3.154,"y":76},{"q":3.16,"y":80},{"q":3.166,"y":76},{"q":3.249,"y":76},{"q":3.255,"y":95},{"q":3.261,"y":76},{"q":3.414,"y":78},{"q":3.42,"y":83},{"q":3.426,"y":78},{"q":3.514,"y":77},{"q":3.52,"y":85},{"q":3.526,"y":77},{"q":3.574,"y":77},{"q":3.58,"y":91},{"q":3.586,"y":77},{"q":3.604,"y":77},{"q":3.61,"y":106},{"q":3.616,"y":77},{"q":3.644,"y":76},{"q":3.65,"y":88},{"q":3.656,"y":76},{"q":3.694,"y":75},{"q":3.70,"y":80},{"q":3.706,"y":75},{"q":3.959,"y":72},{"q":3.965,"y":96},{"q":3.971,"y":72},{"q":4.034,"y":71},{"q":4.04,"y":80},{"q":4.046,"y":71},{"q":4.124,"y":71},{"q":4.13,"y":78},{"q":4.136,"y":71},{"q":4.194,"y":70},{"q":4.2,"y":78},{"q":4.206,"y":70},{"q":4.294,"y":69},{"q":4.3,"y":73},{"q":4.306,"y":69},{"q":4.504,"y":69},{"q":4.51,"y":71},{"q":4.516,"y":69},{"q":4.644,"y":69},{"q":4.65,"y":73},{"q":4.656,"y":69},{"q":4.774,"y":70},{"q":4.78,"y":76},{"q":4.786,"y":70},{"q":4.874,"y":70},{"q":4.88,"y":73},{"q":4.886,"y":70},{"q":4.984,"y":71},{"q":4.99,"y":78},{"q":4.996,"y":71},{"q":5.134,"y":72},{"q":5.14,"y":75},{"q":5.146,"y":72},{"q":5.354,"y":75},{"q":5.36,"y":81},{"q":5.366,"y":75},{"q":5.43,"y":76}
],
"c_obs": [
{"q":0.71,"y":391},{"q":0.71,"y":360},{"q":0.71,"y":300},{"q":0.71,"y":238},{"q":0.71,"y":197},{"q":0.71,"y":160},{"q":0.71,"y":146},{"q":0.71,"y":125},{"q":0.71,"y":116},{"q":0.71,"y":101},{"q":0.71,"y":90},{"q":0.71,"y":80},
{"q":0.876,"y":139},{"q":0.876,"y":118},{"q":0.876,"y":101},{"q":0.876,"y":88},
{"q":1.32,"y":148},{"q":1.32,"y":145},{"q":1.32,"y":125},{"q":1.32,"y":105},{"q":1.32,"y":88},
{"q":1.435,"y":175},{"q":1.435,"y":143},{"q":1.435,"y":125},{"q":1.435,"y":101},{"q":1.435,"y":88},
{"q":1.52,"y":115},{"q":1.52,"y":101},
{"q":1.667,"y":383},{"q":1.667,"y":380},{"q":1.667,"y":321},{"q":1.667,"y":276},{"q":1.667,"y":243},{"q":1.667,"y":188},{"q":1.667,"y":171},{"q":1.667,"y":150},{"q":1.667,"y":130},{"q":1.667,"y":110},{"q":1.667,"y":95},{"q":1.667,"y":85},
{"q":1.82,"y":125},{"q":1.82,"y":108},{"q":1.82,"y":95},{"q":1.90,"y":151},{"q":1.90,"y":134},{"q":1.90,"y":110},
{"q":1.95,"y":203},{"q":1.95,"y":181},{"q":1.95,"y":153},{"q":1.95,"y":128},{"q":1.95,"y":101},
{"q":2.085,"y":125},{"q":2.095,"y":123},{"q":2.095,"y":105},{"q":2.16,"y":145},{"q":2.16,"y":131},{"q":2.16,"y":115},{"q":2.21,"y":138},{"q":2.21,"y":120},
{"q":2.32,"y":153},{"q":2.32,"y":138},{"q":2.32,"y":118},{"q":2.43,"y":138},{"q":2.43,"y":121},{"q":2.43,"y":105},{"q":2.53,"y":105},{"q":2.595,"y":115},{"q":2.595,"y":100},
{"q":2.88,"y":120},{"q":2.88,"y":100},{"q":2.914,"y":126},{"q":2.914,"y":115},{"q":2.914,"y":105},{"q":2.914,"y":95},
{"q":3.255,"y":103},{"q":3.255,"y":92},{"q":3.61,"y":111},{"q":3.61,"y":100},{"q":3.965,"y":103},{"q":3.965,"y":92},{"q":4.2,"y":85},{"q":4.78,"y":85},{"q":4.99,"y":81},{"q":5.36,"y":85},
{"q":0.54,"y":82},{"q":0.6,"y":76},{"q":0.66,"y":79},{"q":0.78,"y":73},{"q":0.84,"y":71},{"q":0.95,"y":70},{"q":1.05,"y":71},{"q":1.15,"y":73},{"q":1.25,"y":75},{"q":1.38,"y":76},{"q":1.48,"y":76},{"q":1.56,"y":78},{"q":1.62,"y":79},{"q":1.72,"y":81},{"q":1.78,"y":83},{"q":1.86,"y":85},{"q":1.93,"y":88},{"q":2.0,"y":89},{"q":2.06,"y":90},{"q":2.13,"y":91},{"q":2.24,"y":91},{"q":2.28,"y":90},{"q":2.38,"y":89},{"q":2.48,"y":87},{"q":2.56,"y":85},{"q":2.66,"y":83},{"q":2.75,"y":81},{"q":2.84,"y":80},{"q":3.0,"y":80},{"q":3.1,"y":81},{"q":3.2,"y":82},{"q":3.3,"y":83},{"q":3.4,"y":84},{"q":3.5,"y":84},{"q":3.7,"y":82},{"q":3.8,"y":80},{"q":3.9,"y":78},{"q":4.08,"y":77},{"q":4.25,"y":76},{"q":4.4,"y":75},{"q":4.55,"y":75},{"q":4.65,"y":75},{"q":4.9,"y":76},{"q":5.05,"y":77},{"q":5.2,"y":78},{"q":5.3,"y":80},{"q":5.4,"y":81}
],
"c_diff": [
{"q":0.52,"y":25},{"q":0.55,"y":27},{"q":0.58,"y":24},{"q":0.61,"y":26},{"q":0.64,"y":25},{"q":0.67,"y":26},{"q":0.70,"y":25},{"q":0.705,"y":55},{"q":0.709,"y":20},{"q":0.713,"y":27},{"q":0.72,"y":25},{"q":0.75,"y":24},{"q":0.78,"y":26},{"q":0.81,"y":25},{"q":0.84,"y":26},{"q":0.866,"y":25},{"q":0.87,"y":30},{"q":0.874,"y":21},{"q":0.88,"y":25},{"q":0.91,"y":26},{"q":0.94,"y":24},{"q":0.97,"y":26},{"q":1.0,"y":25},{"q":1.03,"y":26},{"q":1.06,"y":24},{"q":1.09,"y":26},{"q":1.12,"y":25},{"q":1.15,"y":24},{"q":1.18,"y":26},{"q":1.21,"y":25},{"q":1.24,"y":26},{"q":1.27,"y":24},{"q":1.316,"y":25},{"q":1.32,"y":39},{"q":1.324,"y":22},{"q":1.33,"y":25},{"q":1.36,"y":26},{"q":1.39,"y":24},{"q":1.431,"y":25},{"q":1.435,"y":15},{"q":1.439,"y":27},{"q":1.445,"y":25},{"q":1.48,"y":26},{"q":1.516,"y":25},{"q":1.52,"y":13},{"q":1.524,"y":26},{"q":1.53,"y":25},{"q":1.56,"y":24},{"q":1.59,"y":26},{"q":1.62,"y":25},{"q":1.663,"y":25},{"q":1.667,"y":38},{"q":1.671,"y":21},{"q":1.675,"y":25},{"q":1.70,"y":26},{"q":1.73,"y":24},{"q":1.76,"y":26},{"q":1.79,"y":25},{"q":1.816,"y":25},{"q":1.82,"y":42},{"q":1.824,"y":22},{"q":1.83,"y":25},{"q":1.86,"y":26},{"q":1.89,"y":24},{"q":1.92,"y":26},{"q":1.946,"y":25},{"q":1.95,"y":36},{"q":1.954,"y":22},{"q":1.96,"y":25},{"q":1.99,"y":26},{"q":2.02,"y":24},{"q":2.05,"y":26},{"q":2.08,"y":25},{"q":2.096,"y":25},{"q":2.10,"y":36},{"q":2.104,"y":21},{"q":2.11,"y":25},{"q":2.14,"y":26},{"q":2.166,"y":25},{"q":2.17,"y":10},{"q":2.174,"y":27},{"q":2.18,"y":25},{"q":2.21,"y":26},{"q":2.24,"y":24},{"q":2.256,"y":25},{"q":2.26,"y":11},{"q":2.264,"y":26},{"q":2.27,"y":25},{"q":2.296,"y":25},{"q":2.30,"y":6},{"q":2.304,"y":25},{"q":2.316,"y":25},{"q":2.32,"y":35},{"q":2.324,"y":22},{"q":2.33,"y":25},{"q":2.36,"y":26},{"q":2.39,"y":24},{"q":2.426,"y":25},{"q":2.43,"y":35},{"q":2.434,"y":21},{"q":2.44,"y":25},{"q":2.47,"y":26},{"q":2.50,"y":24},{"q":2.53,"y":26},{"q":2.56,"y":25},{"q":2.596,"y":25},{"q":2.60,"y":30},{"q":2.604,"y":22},{"q":2.61,"y":25},{"q":2.64,"y":26},{"q":2.67,"y":24},{"q":2.70,"y":26},{"q":2.73,"y":25},{"q":2.76,"y":27},{"q":2.79,"y":24},{"q":2.82,"y":26},{"q":2.85,"y":25},{"q":2.876,"y":26},{"q":2.88,"y":33},{"q":2.884,"y":24},{"q":2.896,"y":25},{"q":2.90,"y":18},{"q":2.904,"y":27},{"q":2.91,"y":25},{"q":2.94,"y":26},{"q":2.97,"y":24},{"q":3.0,"y":26},{"q":3.03,"y":25},{"q":3.06,"y":27},{"q":3.09,"y":24},{"q":3.12,"y":26},{"q":3.15,"y":25},{"q":3.18,"y":26},{"q":3.21,"y":24},{"q":3.256,"y":25},{"q":3.26,"y":17},{"q":3.264,"y":27},{"q":3.27,"y":25},{"q":3.30,"y":26},{"q":3.33,"y":24},{"q":3.36,"y":26},{"q":3.39,"y":25},{"q":3.42,"y":27},{"q":3.45,"y":24},{"q":3.48,"y":26},{"q":3.51,"y":25},{"q":3.556,"y":25},{"q":3.56,"y":40},{"q":3.564,"y":23},{"q":3.57,"y":25},{"q":3.60,"y":26},{"q":3.63,"y":24},{"q":3.66,"y":26},{"q":3.69,"y":25},{"q":3.72,"y":26},{"q":3.75,"y":24},{"q":3.78,"y":26},{"q":3.82,"y":25},{"q":3.86,"y":26},{"q":3.90,"y":24},{"q":3.94,"y":26},{"q":3.996,"y":25},{"q":4.0,"y":32},{"q":4.004,"y":24},{"q":4.01,"y":25},{"q":4.05,"y":26},{"q":4.09,"y":24},{"q":4.13,"y":26},{"q":4.17,"y":25},{"q":4.21,"y":26},{"q":4.25,"y":24},{"q":4.29,"y":26},{"q":4.33,"y":25},{"q":4.37,"y":26},{"q":4.41,"y":24},{"q":4.45,"y":26},{"q":4.49,"y":25},{"q":4.53,"y":26},{"q":4.57,"y":24},{"q":4.61,"y":26},{"q":4.65,"y":25},{"q":4.69,"y":26},{"q":4.73,"y":24},{"q":4.796,"y":25},{"q":4.80,"y":30},{"q":4.804,"y":24},{"q":4.81,"y":25},{"q":4.85,"y":26},{"q":4.89,"y":24},{"q":4.93,"y":26},{"q":4.97,"y":25},{"q":5.01,"y":26},{"q":5.05,"y":24},{"q":5.09,"y":26},{"q":5.13,"y":25},{"q":5.17,"y":26},{"q":5.21,"y":24},{"q":5.25,"y":26},{"q":5.29,"y":25},{"q":5.33,"y":26},{"q":5.37,"y":24},{"q":5.41,"y":26},{"q":5.43,"y":25}
]
},
"vconcat": [
{
"width": 572, "height": 393,
"layer": [
{
"encoding": {
"x": {"field":"q","type":"quantitative","scale":{"domain":[0.549,5.611],"nice":false,"zero":false},
"axis":{"orient":"bottom","values":[1,1.5,2,2.5,3,3.5,4,4.5,5,5.5],"format":"d","labelExpr":"datum.value % 1 === 0 ? datum.label : ''","tickSize":{"condition":{"test":"datum.value % 1 === 0","value":6},"value":4},"labelFontSize":18,"labelFontWeight":"bold","labelPadding":2,"title":"Q (Å⁻¹)","titleFontSize":24,"titleFontWeight":"bold","titleX":226,"titleY":46,"titleAlign":"center","titleBaseline":"alphabetic"}},
"y": {"field":"y","type":"quantitative","scale":{"domain":[0,393],"nice":false,"zero":false},
"axis":{"orient":"left","values":[43,95.5,148,200.5,253,305.5,358],"labelExpr":"''","labelPadding":0,"labelFontSize":1,"tickSize":5,"title":"Normalized Intensity [arb. units]","titleFontSize":23,"titleFontWeight":"normal","titleAngle":270,"titleX":-28,"titleY":196,"titleAlign":"center","titleBaseline":"middle"}}
},
"layer": [
{"data":{"name":"a_bg"},"mark":{"type":"area","color":"#000000"},"encoding":{"y":{"field":"lo","type":"quantitative","scale":{"domain":[0,393],"nice":false,"zero":false},"axis":{"orient":"left","values":[43,95.5,148,200.5,253,305.5,358],"labelExpr":"''","labelPadding":0,"labelFontSize":1,"tickSize":5,"title":"Normalized Intensity [arb. units]","titleFontSize":23,"titleFontWeight":"normal","titleAngle":270,"titleX":-28,"titleY":196,"titleAlign":"center","titleBaseline":"middle"}},"y2":{"field":"hi"}}},
{"data":{"name":"a_obs"},"mark":{"type":"point","shape":"M-1,-1L1,1M1,-1L-1,1","filled":false,"stroke":"#000000","strokeWidth":1,"size":90,"opacity":1}},
{"data":{"name":"a_calc"},"mark":{"type":"line","color":"#ff0000","strokeWidth":1.4}},
{"data":{"name":"a_bg"},"mark":{"type":"line","color":"#2fe02f","strokeWidth":3},"encoding":{"y":{"field":"bg","type":"quantitative","scale":{"domain":[0,393],"nice":false,"zero":false},"axis":{"orient":"left","values":[43,95.5,148,200.5,253,305.5,358],"labelExpr":"''","labelPadding":0,"labelFontSize":1,"tickSize":5,"title":"Normalized Intensity [arb. units]","titleFontSize":23,"titleFontWeight":"normal","titleAngle":270,"titleX":-28,"titleY":196,"titleAlign":"center","titleBaseline":"middle"}}}},
{"data":{"name":"a_diff"},"mark":{"type":"line","color":"#0000ff","strokeWidth":1.4}},
{"data":{"values":[{"q":1.13,"y":354,"t":"[a]"}]},"mark":{"type":"text","fontSize":28,"font":"DejaVu Sans","align":"center","baseline":"middle","color":"#000000"},"encoding":{"text":{"field":"t"}}},
{"data":{"values":[{"q":4.07,"y":373,"t":"NdY/HgSe XRD at (Off-edge)"}]},"mark":{"type":"text","fontSize":20,"fontWeight":"bold","font":"DejaVu Sans","align":"center","baseline":"middle","color":"#000000"},"encoding":{"text":{"field":"t"}}}
]
},
{"data":{"values":[{"q":1,"y":0}]},"mark":{"type":"point","opacity":0},"encoding":{"x":{"field":"q","type":"quantitative","scale":{"domain":[0.549,5.611],"nice":false,"zero":false},"axis":{"orient":"top","values":[1,1.5,2,2.5,3,3.5,4,4.5,5,5.5],"labelExpr":"''","labelPadding":0,"labelFontSize":1,"tickSize":5,"title":null}},"y":{"field":"y","type":"quantitative","scale":{"domain":[0,393],"nice":false,"zero":false},"axis":null}}},
{
"encoding": {
"x": {"field":"q","type":"quantitative","scale":{"domain":[0.58,5.63],"range":[265,517],"nice":false,"zero":false},
"axis":{"orient":"bottom","offset":-157,"values":[1,2,3,4,5],"format":"d","labelExpr":"datum.value % 2 === 0 ? datum.label : ''","tickSize":3,"labelFontSize":8,"labelFontWeight":"bold","labelPadding":1,"title":"Q (Å⁻¹)","titleFontSize":11,"titleFontWeight":"bold","titleX":377,"titleY":28,"titleAlign":"center","titleBaseline":"alphabetic"}},
"y": {"field":"v","type":"quantitative","scale":{"type":"log","domain":[0.44,66.6],"range":[236,42],"nice":false},"axis":{"orient":"left","offset":-265,"values":[0.5,0.6,0.7,0.8,0.9,1,2,3,4,5,6,7,8,9,10,20,30,40,50,60],"labelExpr":"''","labelPadding":0,"labelFontSize":1,"tickSize":{"condition":{"test":"datum.value === 1 || datum.value === 10","value":4},"value":2},"title":"Intensity [arb. units in log scale]","titleFontSize":8,"titleFontWeight":"bold","titleAngle":270,"titleX":-12,"titleY":139,"titleAlign":"center","titleBaseline":"middle"}}
},
"layer": [
{"data":{"values":[{"q":0.58,"q2":5.63,"v":0.44,"v2":66.6}]},"mark":{"type":"rect","fill":"#ffffff","stroke":"#000000","strokeWidth":1},"encoding":{"x2":{"field":"q2"},"y2":{"field":"v2"}}},
{"data":{"name":"i_bg"},"mark":{"type":"area","color":"#000000"},"encoding":{"y":{"field":"lo","type":"quantitative","scale":{"type":"log","domain":[0.44,66.6],"range":[236,42],"nice":false},"axis":{"orient":"left","offset":-265,"values":[0.5,0.6,0.7,0.8,0.9,1,2,3,4,5,6,7,8,9,10,20,30,40,50,60],"labelExpr":"''","labelPadding":0,"labelFontSize":1,"tickSize":{"condition":{"test":"datum.value === 1 || datum.value === 10","value":4},"value":2},"title":"Intensity [arb. units in log scale]","titleFontSize":8,"titleFontWeight":"bold","titleAngle":270,"titleX":-12,"titleY":139,"titleAlign":"center","titleBaseline":"middle"}},"y2":{"field":"bg"}}},
{"data":{"name":"i_bg"},"mark":{"type":"area","color":"#ff0000"},"encoding":{"y":{"field":"bg","type":"quantitative","scale":{"type":"log","domain":[0.44,66.6],"range":[236,42],"nice":false},"axis":{"orient":"left","offset":-265,"values":[0.5,0.6,0.7,0.8,0.9,1,2,3,4,5,6,7,8,9,10,20,30,40,50,60],"labelExpr":"''","labelPadding":0,"labelFontSize":1,"tickSize":{"condition":{"test":"datum.value === 1 || datum.value === 10","value":4},"value":2},"title":"Intensity [arb. units in log scale]","titleFontSize":8,"titleFontWeight":"bold","titleAngle":270,"titleX":-12,"titleY":139,"titleAlign":"center","titleBaseline":"middle"}},"y2":{"field":"hi"}}},
{"data":{"name":"i_calc"},"mark":{"type":"line","color":"#ff0000","strokeWidth":1.3}},
{"data":{"name":"i_obs"},"mark":{"type":"point","shape":"circle","filled":true,"color":"#000000","size":6,"opacity":1}},
{"data":{"name":"i_bg"},"mark":{"type":"line","color":"#2fe02f","strokeWidth":2},"encoding":{"y":{"field":"bg","type":"quantitative","scale":{"type":"log","domain":[0.44,66.6],"range":[236,42],"nice":false},"axis":{"orient":"left","offset":-265,"values":[0.5,0.6,0.7,0.8,0.9,1,2,3,4,5,6,7,8,9,10,20,30,40,50,60],"labelExpr":"''","labelPadding":0,"labelFontSize":1,"tickSize":{"condition":{"test":"datum.value === 1 || datum.value === 10","value":4},"value":2},"title":"Intensity [arb. units in log scale]","titleFontSize":8,"titleFontWeight":"bold","titleAngle":270,"titleX":-12,"titleY":139,"titleAlign":"center","titleBaseline":"middle"}}}}
]
}
],
"resolve": {"scale": {"x": "independent", "y": "independent"}}
},
{
"width": 572, "height": 396,
"layer": [
{
"encoding": {
"x": {"field":"q","type":"quantitative","scale":{"domain":[0.615,5.266],"nice":false,"zero":false},
"axis":{"orient":"bottom","values":[1,1.5,2,2.5,3,3.5,4,4.5,5],"format":"d","labelExpr":"datum.value % 1 === 0 ? datum.label : ''","tickSize":{"condition":{"test":"datum.value % 1 === 0","value":6},"value":4},"labelFontSize":18,"labelFontWeight":"bold","labelPadding":3,"title":"Q (Å⁻¹)","titleFontSize":24,"titleFontWeight":"bold","titleX":223,"titleY":43,"titleAlign":"center","titleBaseline":"alphabetic"}},
"y": {"field":"y","type":"quantitative","scale":{"domain":[0,396],"nice":false,"zero":false},
"axis":{"orient":"left","values":[39,106,173,240,307,374],"labelExpr":"''","labelPadding":0,"labelFontSize":1,"tickSize":5,"title":"Normalized Intensity [arb. units]","titleFontSize":23,"titleFontWeight":"normal","titleAngle":270,"titleX":-28,"titleY":198,"titleAlign":"center","titleBaseline":"middle"}}
},
"layer": [
{"data":{"name":"b_bg"},"mark":{"type":"area","color":"#000000"},"encoding":{"y":{"field":"lo","type":"quantitative","scale":{"domain":[0,396],"nice":false,"zero":false},"axis":{"orient":"left","values":[39,106,173,240,307,374],"labelExpr":"''","labelPadding":0,"labelFontSize":1,"tickSize":5,"title":"Normalized Intensity [arb. units]","titleFontSize":23,"titleFontWeight":"normal","titleAngle":270,"titleX":-28,"titleY":198,"titleAlign":"center","titleBaseline":"middle"}},"y2":{"field":"hi"}}},
{"data":{"name":"b_obs"},"mark":{"type":"point","shape":"M-1,-1L1,1M1,-1L-1,1","filled":false,"stroke":"#000000","strokeWidth":1,"size":90,"opacity":1}},
{"data":{"name":"b_calc"},"mark":{"type":"line","color":"#ff0000","strokeWidth":1.4}},
{"data":{"name":"b_bg"},"mark":{"type":"line","color":"#2fe02f","strokeWidth":3},"encoding":{"y":{"field":"bg","type":"quantitative","scale":{"domain":[0,396],"nice":false,"zero":false},"axis":{"orient":"left","values":[39,106,173,240,307,374],"labelExpr":"''","labelPadding":0,"labelFontSize":1,"tickSize":5,"title":"Normalized Intensity [arb. units]","titleFontSize":23,"titleFontWeight":"normal","titleAngle":270,"titleX":-28,"titleY":198,"titleAlign":"center","titleBaseline":"middle"}}}},
{"data":{"name":"b_diff"},"mark":{"type":"line","color":"#0000ff","strokeWidth":1.4}},
{"data":{"values":[{"q":1.10,"y":361,"t":"[b]"}]},"mark":{"type":"text","fontSize":28,"font":"DejaVu Sans","align":"center","baseline":"middle","color":"#000000"},"encoding":{"text":{"field":"t"}}},
{"data":{"values":[{"q":3.778,"y":368,"t":"NdY/HgSe XRD at Hg-L edge"}]},"mark":{"type":"text","fontSize":20,"fontWeight":"bold","font":"DejaVu Sans","align":"center","baseline":"middle","color":"#000000"},"encoding":{"text":{"field":"t"}}}
]
},
{"data":{"values":[{"q":1,"y":0}]},"mark":{"type":"point","opacity":0},"encoding":{"x":{"field":"q","type":"quantitative","scale":{"domain":[0.615,5.266],"nice":false,"zero":false},"axis":{"orient":"top","values":[1,1.5,2,2.5,3,3.5,4,4.5,5],"labelExpr":"''","labelPadding":0,"labelFontSize":1,"tickSize":5,"title":null}},"y":{"field":"y","type":"quantitative","scale":{"domain":[0,396],"nice":false,"zero":false},"axis":null}}}
],
"resolve": {"scale": {"x": "independent", "y": "independent"}}
},
{
"width": 572, "height": 397,
"layer": [
{
"encoding": {
"x": {"field":"q","type":"quantitative","scale":{"domain":[0.461,5.43],"nice":false,"zero":false},
"axis":{"orient":"bottom","values":[1,1.5,2,2.5,3,3.5,4,4.5,5],"format":"d","labelExpr":"datum.value % 1 === 0 ? datum.label : ''","tickSize":{"condition":{"test":"datum.value % 1 === 0","value":6},"value":4},"labelFontSize":18,"labelFontWeight":"bold","labelPadding":5,"title":"Q (Å⁻¹)","titleFontSize":24,"titleFontWeight":"bold","titleX":241,"titleY":50,"titleAlign":"center","titleBaseline":"alphabetic"}},
"y": {"field":"y","type":"quantitative","scale":{"domain":[0,397],"nice":false,"zero":false},
"axis":{"orient":"left","values":[42,107,172,236,301,366],"labelExpr":"''","labelPadding":0,"labelFontSize":1,"tickSize":5,"title":"Normalized Intensity [arb. units]","titleFontSize":23,"titleFontWeight":"normal","titleAngle":270,"titleX":-24,"titleY":198,"titleAlign":"center","titleBaseline":"middle"}}
},
"layer": [
{"data":{"name":"c_bg"},"mark":{"type":"area","color":"#000000"},"encoding":{"y":{"field":"lo","type":"quantitative","scale":{"domain":[0,397],"nice":false,"zero":false},"axis":{"orient":"left","values":[42,107,172,236,301,366],"labelExpr":"''","labelPadding":0,"labelFontSize":1,"tickSize":5,"title":"Normalized Intensity [arb. units]","titleFontSize":23,"titleFontWeight":"normal","titleAngle":270,"titleX":-24,"titleY":198,"titleAlign":"center","titleBaseline":"middle"}},"y2":{"field":"hi"}}},
{"data":{"name":"c_obs"},"mark":{"type":"point","shape":"M-1,-1L1,1M1,-1L-1,1","filled":false,"stroke":"#000000","strokeWidth":1,"size":90,"opacity":1}},
{"data":{"name":"c_calc"},"mark":{"type":"line","color":"#ff0000","strokeWidth":1.4}},
{"data":{"name":"c_bg"},"mark":{"type":"line","color":"#2fe02f","strokeWidth":3},"encoding":{"y":{"field":"bg","type":"quantitative","scale":{"domain":[0,397],"nice":false,"zero":false},"axis":{"orient":"left","values":[42,107,172,236,301,366],"labelExpr":"''","labelPadding":0,"labelFontSize":1,"tickSize":5,"title":"Normalized Intensity [arb. units]","titleFontSize":23,"titleFontWeight":"normal","titleAngle":270,"titleX":-24,"titleY":198,"titleAlign":"center","titleBaseline":"middle"}}}},
{"data":{"name":"c_diff"},"mark":{"type":"line","color":"#0000ff","strokeWidth":1.4}},
{"data":{"values":[{"q":1.04,"y":362,"t":"[c]"}]},"mark":{"type":"text","fontSize":28,"font":"DejaVu Sans","align":"center","baseline":"middle","color":"#000000"},"encoding":{"text":{"field":"t"}}},
{"data":{"values":[{"q":3.854,"y":370,"t":"NdY/HgSe XRD at Se-K edge"}]},"mark":{"type":"text","fontSize":20,"fontWeight":"bold","font":"DejaVu Sans","align":"center","baseline":"middle","color":"#000000"},"encoding":{"text":{"field":"t"}}}
]
},
{"data":{"values":[{"q":1,"y":0}]},"mark":{"type":"point","opacity":0},"encoding":{"x":{"field":"q","type":"quantitative","scale":{"domain":[0.461,5.43],"nice":false,"zero":false},"axis":{"orient":"top","values":[1,1.5,2,2.5,3,3.5,4,4.5,5],"labelExpr":"''","labelPadding":0,"labelFontSize":1,"tickSize":5,"title":null}},"y":{"field":"y","type":"quantitative","scale":{"domain":[0,397],"nice":false,"zero":false},"axis":null}}}
],
"resolve": {"scale": {"x": "independent", "y": "independent"}}
}
],
"config": {
"view": {"stroke": "#000000", "strokeWidth": 1.3},
"axis": {"domain": false, "grid": false, "tickColor": "#000000", "tickWidth": 1.2, "labelColor": "#000000", "titleColor": "#000000", "labelFont": "DejaVu Sans", "titleFont": "DejaVu Sans"},
"text": {"font": "DejaVu Sans"},
"font": "DejaVu Sans"
}
}
